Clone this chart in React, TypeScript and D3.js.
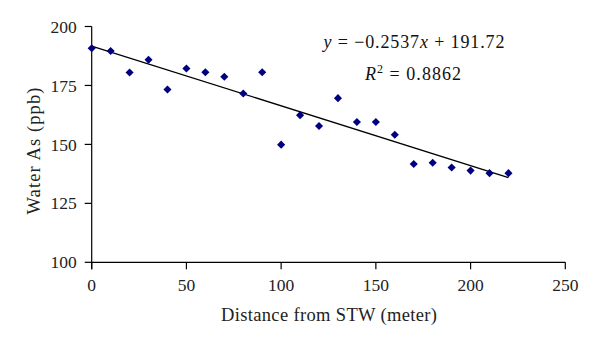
import React from "react";
import * as d3 from "d3";

const distances = [0, 10, 20, 30, 40, 50, 60, 70, 80, 90, 100, 110, 120, 130, 140, 150, 160, 170, 180, 190, 200, 210, 220];
const arsenic = [190.8, 189.6, 180.5, 185.9, 173.3, 182.2, 180.6, 178.7, 171.6, 180.6, 149.9, 162.4, 157.8, 169.6, 159.5, 159.5, 154.1, 141.7, 142.2, 140.2, 138.9, 137.8, 137.8];
const xTicks = [0, 50, 100, 150, 200, 250];
const yTicks = [100, 125, 150, 175, 200];
const slope = -0.2537;
const intercept = 191.72;

const W = 600, H = 345;
const m = { left: 91.7, right: 565.3, top: 26.5, bottom: 262.3 };
const FONT = "'Liberation Serif', 'Times New Roman', serif";

export default function App() {
  const x = d3.scaleLinear().domain([0, 250]).range([m.left, m.right]);
  const y = d3.scaleLinear().domain([100, 200]).range([m.bottom, m.top]);
  const diamond = d3.symbol().type(d3.symbolDiamond2).size(42)();
  const trend = d3.line<number>().x((d) => x(d)).y((d) => y(slope * d + intercept))([0, 220]) || "";
  const tick = 7;
  return (
    <svg width={W} height={H} style={{ position: "absolute", left: 0, top: 0, background: "#fff" }}>
      <g stroke="#000" strokeWidth={1.2}>
        <line x1={m.left} x2={m.left} y1={m.top} y2={m.bottom + tick} />
        <line x1={m.left} x2={m.right} y1={m.bottom} y2={m.bottom} />
        {yTicks.map((t) => (
          <line key={"yt" + t} x1={m.left - tick} x2={m.left} y1={y(t)} y2={y(t)} />
        ))}
        {xTicks.map((t) => (
          <line key={"xt" + t} x1={x(t)} x2={x(t)} y1={m.bottom} y2={m.bottom + tick} />
        ))}
      </g>
      <g fontFamily={FONT} fontSize={17.5} fill="#222">
        {yTicks.map((t) => (
          <text key={"yl" + t} x={m.left - 15} y={y(t)} dy="0.35em" textAnchor="end">{t}</text>
        ))}
        {xTicks.map((t) => (
          <text key={"xl" + t} x={x(t)} y={291} textAnchor="middle">{t}</text>
        ))}
      </g>
      <g fontFamily={FONT} fontSize={18.5} fill="#222">
        <text x={329} y={321} textAnchor="middle" textLength={216} lengthAdjust="spacing">Distance from STW (meter)</text>
        <text transform={`translate(40,${151}) rotate(-90)`} textAnchor="middle" textLength={127} lengthAdjust="spacing">Water As (ppb)</text>
      </g>
      <path d={trend} stroke="#000" strokeWidth={1.3} fill="none" />
      <g fill="#000080">
        {distances.map((d, i) => (
          <path key={i} d={diamond} transform={`translate(${x(d)},${y(arsenic[i])})`} />
        ))}
      </g>
      <g fontFamily={FONT} fontSize={18} fill="#111">
        <text x={414} y={48} textAnchor="middle" textLength={181} lengthAdjust="spacing">
          <tspan fontStyle="italic">y</tspan> = −0.2537<tspan fontStyle="italic">x</tspan> + 191.72
        </text>
        <text x={413} y={80} textAnchor="middle" textLength={96} lengthAdjust="spacing">
          <tspan fontStyle="italic">R</tspan><tspan dy={-7} fontSize={12}>2</tspan><tspan dy={7}> = 0.8862</tspan>
        </text>
      </g>
    </svg>
  );
}
